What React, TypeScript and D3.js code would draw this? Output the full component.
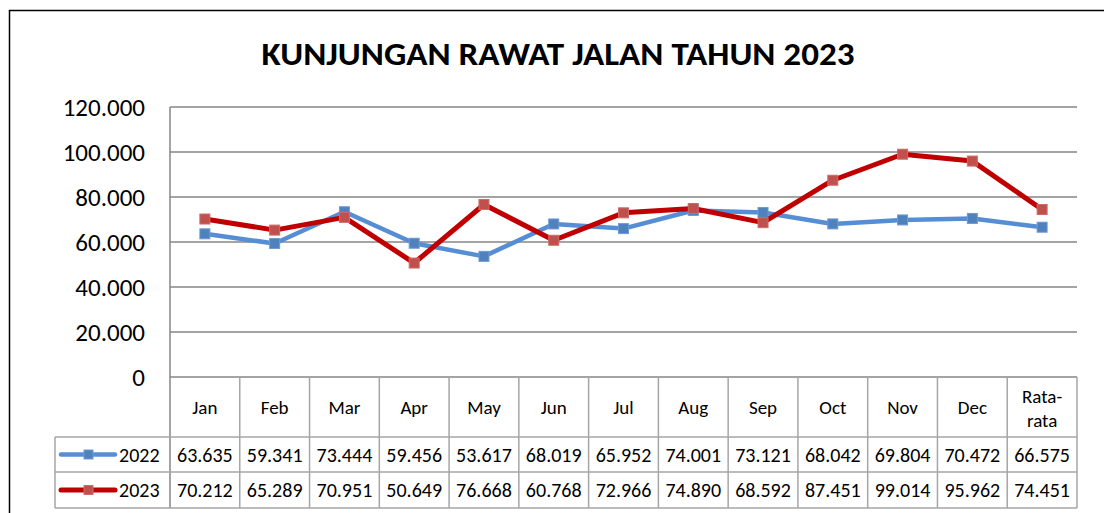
import React from 'react';
import * as d3 from 'd3';

const months = ['Jan', 'Feb', 'Mar', 'Apr', 'May', 'Jun', 'Jul', 'Aug', 'Sep', 'Oct', 'Nov', 'Dec', 'Rata-rata'];
const values2022 = [63635, 59341, 73444, 59456, 53617, 68019, 65952, 74001, 73121, 68042, 69804, 70472, 66575];
const values2023 = [70212, 65289, 70951, 50649, 76668, 60768, 72966, 74890, 68592, 87451, 99014, 95962, 74451];
const yTicks = [0, 20000, 40000, 60000, 80000, 100000, 120000];

const series = [
  { name: '2022', values: values2022, line: '#558ED5', marker: '#4F81BD', markerStroke: '#6f9ad6', width: 4.5 },
  { name: '2023', values: values2023, line: '#C00000', marker: '#C0504D', markerStroke: '#d06a67', width: 5 },
];

const font = 'Carlito, Lato, sans-serif';
const fmt = (v: number) => (v === 0 ? '0' : d3.format(',')(v).replace(/,/g, '.'));

export default function App() {
  const left = 170, right = 1077, top = 107, bottom = 377;
  const headerBottom = 437, row1Bottom = 472, row2Bottom = 508, legendLeft = 55;

  const x = d3.scaleBand<string>().domain(months).range([left, right]);
  const y = d3.scaleLinear().domain([0, 120000]).range([bottom, top]);
  const cx = (m: string) => (x(m) as number) + x.bandwidth() / 2;

  const line = d3.line<number>()
    .x((_, i) => cx(months[i]))
    .y((d) => y(d));

  const grid = '#868686';
  const tableLine = '#a6a6a6';
  const rowBounds = [[headerBottom, row1Bottom], [row1Bottom, row2Bottom]];

  return (
    <svg width={1104} height={513} style={{ position: 'absolute', left: 0, top: 0, background: '#fff' }}>
      <rect x={9.5} y={10.5} width={1120} height={530} fill="none" stroke="#000" strokeWidth={1.5} />

      <text x={558} y={65} textAnchor="middle" fontFamily={font} fontWeight="bold" fontSize={32}
        textLength={593} lengthAdjust="spacingAndGlyphs">
        KUNJUNGAN RAWAT JALAN TAHUN 2023
      </text>

      {/* gridlines */}
      {yTicks.map((t) => (
        <line key={t} x1={left} x2={right} y1={y(t)} y2={y(t)} stroke={grid} strokeWidth={1.5} />
      ))}
      {yTicks.map((t) => (
        <text key={'l' + t} x={145} y={y(t) + 9} textAnchor="end" fontFamily={font} fontSize={25} fill="#000">
          {fmt(t)}
        </text>
      ))}
      <line x1={left} x2={left} y1={top} y2={row2Bottom} stroke={grid} strokeWidth={1.5} />

      {/* data table */}
      {months.map((m) => (
        <line key={'v' + m} x1={(x(m) as number) + x.bandwidth()} x2={(x(m) as number) + x.bandwidth()}
          y1={bottom} y2={row2Bottom} stroke={tableLine} strokeWidth={1.5} />
      ))}
      {[headerBottom, row1Bottom, row2Bottom].map((yy) => (
        <line key={'h' + yy} x1={legendLeft} x2={right} y1={yy} y2={yy} stroke={tableLine} strokeWidth={1.5} />
      ))}
      <line x1={legendLeft} x2={legendLeft} y1={headerBottom} y2={row2Bottom} stroke={tableLine} strokeWidth={1.5} />

      {months.map((m) =>
        m === 'Rata-rata' ? (
          <g key={m}>
            <text x={cx(m)} y={403} textAnchor="middle" fontFamily={font} fontSize={19}>Rata-</text>
            <text x={cx(m)} y={427} textAnchor="middle" fontFamily={font} fontSize={19}>rata</text>
          </g>
        ) : (
          <text key={m} x={cx(m)} y={414} textAnchor="middle" fontFamily={font} fontSize={19}>{m}</text>
        )
      )}

      {series.map((s, si) => {
        const [r0, r1] = rowBounds[si];
        const mid = (r0 + r1) / 2;
        return (
          <g key={'row' + s.name}>
            <line x1={61} x2={115} y1={mid} y2={mid} stroke={s.line} strokeWidth={s.width} strokeLinecap="round" />
            <rect x={84} y={mid - 4.5} width={9} height={9} fill={s.marker} stroke={s.markerStroke} strokeWidth={1} />
            <text x={119} y={mid + 7} fontFamily={font} fontSize={20}>{s.name}</text>
            {s.values.map((v, i) => (
              <text key={i} x={cx(months[i])} y={mid + 7} textAnchor="middle" fontFamily={font} fontSize={20}>
                {fmt(v)}
              </text>
            ))}
          </g>
        );
      })}

      {/* lines */}
      {series.map((s) => (
        <g key={'s' + s.name}>
          <path d={line(s.values) as string} fill="none" stroke={s.line} strokeWidth={s.width} strokeLinejoin="round" />
          {s.values.map((v, i) => (
            <rect key={i} x={cx(months[i]) - 5} y={y(v) - 5} width={10} height={10}
              fill={s.marker} stroke={s.markerStroke} strokeWidth={1} />
          ))}
        </g>
      ))}
    </svg>
  );
}
